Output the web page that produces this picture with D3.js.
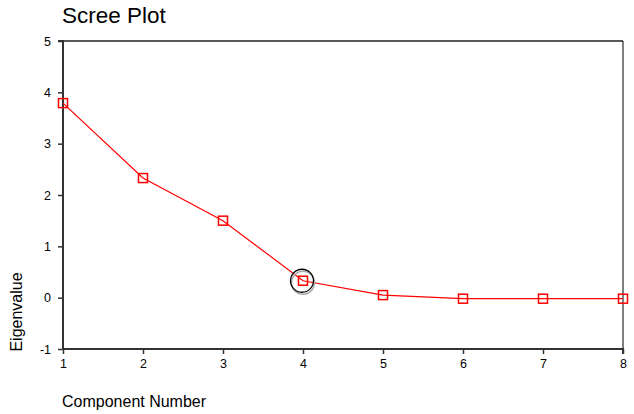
<!DOCTYPE html>
<html><head><meta charset="utf-8">
<script src="https://cdn.jsdelivr.net/npm/d3@7"></script>
<style>body{margin:0;background:#fff}svg{display:block;font-family:Arial,"Liberation Sans",sans-serif}</style>
</head><body>
<svg id="c" width="634" height="414"></svg>
<script>
const components = [1,2,3,4,5,6,7,8];
const eigenvalues = [3.79,2.33,1.50,0.33,0.05,-0.02,-0.02,-0.02];
const yTicks = [-1,0,1,2,3,4,5];
const xTicks = [1,2,3,4,5,6,7,8];
const elbow = 4;

const svg = d3.select("#c");
const L=63,R=623,T=41,B=349;
const x = d3.scaleLinear().domain([1,8]).range([L,R]);
const y = d3.scaleLinear().domain([-1,5]).range([B,T]);

svg.append("text").attr("x",62).attr("y",23).attr("font-size",22.5).attr("fill","#000").text("Scree Plot");

svg.append("line").attr("x1",L).attr("x2",R).attr("y1",T).attr("y2",T).attr("stroke","#222").attr("stroke-width",1.5);
svg.append("line").attr("x1",R).attr("x2",R).attr("y1",T).attr("y2",B).attr("stroke","#000").attr("stroke-width",1);

const fmt = d => String(d);
const ya = svg.append("g").attr("transform",`translate(${L},0)`)
  .call(d3.axisLeft(y).tickValues(yTicks).tickSize(5).tickPadding(7).tickFormat(fmt));
const xa = svg.append("g").attr("transform",`translate(0,${B})`)
  .call(d3.axisBottom(x).tickValues(xTicks).tickSize(5).tickPadding(5).tickFormat(fmt));
[ya,xa].forEach(g=>{
  g.select(".domain").attr("stroke","#333").attr("stroke-width",2);
  g.selectAll(".tick line").attr("stroke","#333").attr("stroke-width",1.5);
  g.selectAll(".tick text").attr("font-size",12.5).attr("fill","#000").attr("font-family","Arial,'Liberation Sans',sans-serif");
});
ya.select(".domain").attr("d",`M-5,${T}H0V${B}`);
xa.select(".domain").attr("d",`M${L},0H${R}V5`);

const pts = components.map((c,i)=>[c,eigenvalues[i]]);
svg.append("path").datum(pts)
  .attr("d",d3.line().x(d=>x(d[0])).y(d=>y(d[1])))
  .attr("fill","none").attr("stroke","#f00").attr("stroke-width",1.2);

svg.selectAll("rect.m").data(pts).join("rect").attr("class","m")
  .attr("x",d=>x(d[0])-4.5).attr("y",d=>y(d[1])-4.5).attr("width",9).attr("height",9)
  .attr("fill","none").attr("stroke","#f00").attr("stroke-width",1.5);

const ev = eigenvalues[components.indexOf(elbow)];
svg.append("circle").attr("cx",x(elbow)).attr("cy",y(ev)+2).attr("r",11.5)
  .attr("fill","none").attr("stroke","#aaa").attr("stroke-width",1.5);
svg.append("circle").attr("cx",x(elbow)-1).attr("cy",y(ev)).attr("r",11.5)
  .attr("fill","none").attr("stroke","#000").attr("stroke-width",1.3);

svg.append("text").attr("transform","translate(22,312) rotate(-90)").attr("text-anchor","middle")
  .attr("font-size",16).attr("fill","#000").text("Eigenvalue");
svg.append("text").attr("x",62).attr("y",407).attr("font-size",16).attr("fill","#000").text("Component Number");
</script>
</body></html>
